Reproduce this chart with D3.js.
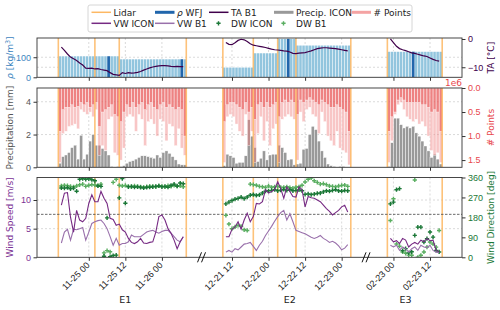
<!DOCTYPE html>
<html>
<head>
<meta charset="utf-8">
<script src="https://cdn.jsdelivr.net/npm/d3@7"></script>
<style>
  body { margin: 0; background: #fff; }
  svg { font-family: "DejaVu Sans", sans-serif; }
</style>
</head>
<body>
<svg id="chart" width="500" height="310"></svg>
<script>
// ---- data -----------------------------------------------------------------
const events = ['E1', 'E2', 'E3'];
// visible time window of every piece of the broken x axis
const axisWindows = [
  ['2023-11-24T07:00Z', '2023-11-26T13:00Z'],
  ['2023-12-21T02:00Z', '2023-12-23T08:00Z'],
  ['2024-02-22T15:00Z', '2024-02-23T22:30Z']
];
const eventStarts = ['2023-11-24T14:00Z', '2023-12-21T09:00Z', '2024-02-22T22:00Z'];
const eventLabelTimes = ['2023-11-25T12:00Z', '2023-12-22T07:00Z', '2024-02-23T04:00Z'];
const tickTimes = [
  '2023-11-25T00:00Z', '2023-11-25T12:00Z', '2023-11-26T00:00Z',
  '2023-12-21T12:00Z', '2023-12-22T00:00Z', '2023-12-22T12:00Z', '2023-12-23T00:00Z',
  '2024-02-23T00:00Z', '2024-02-23T12:00Z'
];
const lidarTimes = [
  '2023-11-24T14:00Z', '2023-11-25T02:00Z', '2023-11-25T10:00Z', '2023-11-26T08:00Z',
  '2023-12-21T09:00Z', '2023-12-21T19:00Z', '2023-12-22T03:00Z', '2023-12-22T09:00Z', '2023-12-23T03:00Z',
  '2024-02-22T22:00Z', '2024-02-23T16:00Z'
];
// snow density WFJ: [from, to, kg/m3]
const rhoSteps = [
  ['2023-11-24T14:00Z', '2023-11-25T10:00Z', 106],
  ['2023-11-25T10:00Z', '2023-11-26T08:00Z', 91],
  ['2023-12-21T09:00Z', '2023-12-21T19:00Z', 50],
  ['2023-12-21T19:00Z', '2023-12-22T03:00Z', 121],
  ['2023-12-22T03:00Z', '2023-12-22T09:00Z', 192],
  ['2023-12-22T09:00Z', '2023-12-23T03:00Z', 160],
  ['2024-02-22T22:00Z', '2024-02-23T16:00Z', 128]
];
const rhoObs = [
  ['2023-11-25T06:00Z', 106], ['2023-11-26T06:00Z', 91],
  ['2023-12-22T06:00Z', 192], ['2024-02-23T06:00Z', 128]
];

// hourly series, one value per hour from the event start
const precipE1 = [0.25,0.65,0.75,0.9,1.2,1.35,0.5,1.95,0.5,0.8,1.6,2.0,1.35,1.35,1.15,1.0,0.75,0.05,0.02,0.05,0.05,0.1,0.25,0.35,0.4,0.5,0.6,0.7,0.7,0.65,0.6,0.55,0.75,0.6,0.9,1.0,0.85,0.65,0.45,0.2,0.15,0.15];
const precipE2 = [0.1,0.8,0.7,0.6,0.25,0.3,0.3,0.7,2.9,1.9,1.2,0.35,0.55,1.0,0.45,0.75,0.8,0.8,1.35,1.2,0.9,0.45,0.5,0.15,0.2,0.25,1.1,1.15,2.0,2.5,2.3,1.6,1.0,0.6,0.2,0.1,0.05,0.0,0.05,0.05,0.0,0.0];
const precipE3 = [0.05,1.5,3.0,3.0,2.6,2.4,2.5,2.4,2.5,2.1,1.9,1.6,1.3,1.0,0.6,0.8,0.5,0.2];

// number of lidar points (x 1e6): all points and the smaller subset
const ptsAllE1 = [1.55,0.95,0.9,0.8,0.78,0.75,0.85,0.45,0.5,0.55,0.5,0.6,0.45,1.4,1.2,1.3,0.65,0.6,1.35,1.4,1.5,1.25,0.6,0.55,0.6,0.9,0.55,0.65,1.2,0.7,0.65,0.75,1.0,0.65,0.7,1.1,0.75,0.8,1.2,0.85,1.25,1.4];
const ptsSubE1 = [0.9,0.45,0.4,0.4,0.35,0.4,0.38,0.3,0.35,0.3,0.4,0.35,0.3,0.8,0.5,0.45,0.4,0.35,0.55,0.6,0.7,0.5,0.35,0.4,0.3,0.4,0.35,0.3,0.45,0.35,0.3,0.4,0.45,0.35,0.3,0.4,0.35,0.4,0.45,0.4,0.45,1.0];
const ptsAllE2 = [1.55,0.6,0.55,0.6,0.75,0.9,1.0,0.55,1.2,0.9,1.55,0.95,0.6,1.1,0.7,1.2,0.85,0.75,1.55,0.65,0.6,0.55,0.6,0.65,1.5,0.5,0.7,0.45,0.4,0.55,0.6,0.95,0.5,0.7,1.0,1.1,1.2,0.9,1.25,1.3,1.35,1.6];
const ptsSubE2 = [0.7,0.35,0.3,0.3,0.35,0.4,0.45,0.3,0.5,0.4,0.65,0.35,0.3,0.4,0.3,0.4,0.35,0.3,0.6,0.3,0.25,0.3,0.25,0.3,0.55,0.25,0.3,0.25,0.2,0.25,0.3,0.35,0.25,0.3,0.35,0.4,0.4,0.35,0.4,0.45,0.5,0.9];
const ptsAllE3 = [1.55,1.1,0.55,0.35,0.3,0.45,0.6,0.65,0.7,0.65,0.75,0.7,0.8,1.0,1.3,1.4,1.35,1.55];
const ptsSubE3 = [0.9,0.6,0.5,0.25,0.2,0.25,0.3,0.3,0.3,0.3,0.3,0.35,0.35,0.4,0.5,0.45,0.5,0.9];

// air temperature B1 (degC)
const taE1 = [null,-2.9,-4.0,-5.3,-6.4,-7.0,-7.6,-8.5,-9.2,-10.3,-10.4,-10.3,-10.6,-10.5,-10.8,-11.0,-11.2,-11.9,-12.5,-12.7,-12.9,-11.9,-12.2,-11.9,-12.1,-12.0,-11.8,-11.5,-11.0,-10.6,-10.2,-9.9,-9.7,-9.5,-9.4,-9.4,-9.5,-9.7,-9.8,-9.7,-9.8,-9.8];
const taE2 = [null,-1.2,-1.9,-2.0,-1.3,-0.5,-0.1,-0.3,-0.9,-1.7,-2.2,-2.4,-2.6,-2.8,-3.0,-3.3,-3.6,-3.8,-3.9,-4.0,-4.2,-4.3,-4.6,-5.1,-5.2,-5.0,-4.9,-4.8,-4.5,-4.2,-3.8,-3.4,-3.2,-3.1,-3.1,-3.2,-3.3,-3.4,-3.6,-3.8,-4.0,-4.2];
const taE3 = [null,0.0,-1.3,-2.6,-3.4,-3.8,-4.1,-4.5,-4.9,-5.1,-5.4,-5.7,-6.0,-6.2,-6.7,-7.2,-7.6,-7.8];

// wind speed (m/s)
const vwIconE1 = [null,9.1,11.2,11.3,7.0,4.4,8.2,6.5,6.2,6.8,9.4,10.9,9.7,9.7,11.5,10.3,9.4,6.8,6.6,5.6,5.8,4.8,4.4,3.3,2.6,2.4,2.7,3.3,2.5,2.4,2.6,2.7,4.4,7.1,7.4,6.5,5.0,4.2,3.0,1.5,2.7,3.6];
const vwB1E1 = [null,2.5,4.4,4.9,3.0,4.9,4.8,5.0,5.2,3.0,4.4,5.9,6.2,6.4,6.5,5.9,5.0,3.6,2.1,3.3,2.1,2.4,2.4,2.7,3.9,3.6,3.6,3.6,4.0,4.4,4.6,4.7,4.4,4.2,4.5,4.7,4.7,4.2,3.6,3.0,2.7,3.6];
const vwIconE2 = [null,3.6,3.6,4.9,5.3,6.2,4.9,6.5,7.7,6.2,7.1,9.4,9.3,9.7,11.8,11.2,11.5,11.8,13.2,12.0,10.3,12.3,11.5,10.6,10.5,12.3,11.8,8.8,10.6,10.4,10.3,10.0,9.7,9.1,8.5,8.0,7.4,7.8,8.2,8.8,9.1,7.9];
const vwB1E2 = [null,0.9,1.2,0.9,1.5,1.3,1.8,2.3,2.4,2.6,1.9,1.2,2.1,2.8,3.8,4.6,5.4,6.3,7.1,7.8,8.2,6.5,7.6,6.2,4.7,4.5,4.3,4.1,3.8,3.5,3.3,3.5,3.8,3.3,3.0,2.6,2.8,2.5,2.0,1.3,1.6,2.2];
const vwIconE3 = [null,3.3,2.7,2.9,2.4,3.3,3.0,1.8,2.3,2.6,2.3,3.0,2.7,3.3,2.9,3.0,1.2,1.0];
const vwB1E3 = [null,2.1,1.8,2.1,1.2,1.8,1.5,0.9,1.5,1.8,1.2,2.1,1.8,1.7,2.1,1.2,0.9,0.8];

// wind direction (deg)
const dwIconE1 = [null,313,312,314,309,312,298,352,355,352,354,350,345,322,320,5,178,3,8,10,268,355,244,318,320,316,318,315,313,315,316,318,320,322,318,320,316,325,330,322,335,332];
const dwB1E1 = [null,322,325,323,320,318,322,327,330,320,325,328,326,323,330,20,30,25,338,352,325,322,324,320,318,322,320,318,316,319,321,320,318,322,320,318,323,320,325,320,322,318];
const dwIconE2 = [null,241,249,256,262,266,271,265,272,280,283,279,282,290,298,300,302,305,300,303,306,302,305,300,302,304,300,284,286,283,285,288,290,295,300,298,302,305,300,298,302,300];
const dwB1E2 = [null,189,150,129,137,144,140,124,121,330,328,325,320,318,315,322,316,318,320,316,315,318,314,312,316,318,325,340,352,358,345,338,330,332,328,322,320,318,322,324,326,320];
const dwIconE3 = [null,241,249,305,310,30,39,20,25,99,136,136,69,84,114,91,31,24];
const dwB1E3 = [null,166,264,60,50,24,18,10,9,349,0,9,24,46,69,60,46,121];

// ---- layout ---------------------------------------------------------------
const L = 37, R = 462;
const P1 = [38, 77.3], P2 = [88, 167.3], P3 = [177.5, 257.3];
const C = {
  lidar: '#fdb863', rhoLight: '#92c5de', rhoDark: '#2166ac', ta: '#40004b',
  precip: '#999999', pts: '#e8474c', vwIcon: '#762a83', vwB1: '#9970ab',
  dwIcon: '#1b7837', dwB1: '#5aae61', grid: '#d0d0d0', axis: '#333'
};

const parse = d3.isoParse;
const hour = 36e5;

// broken time axis: one piecewise scale over the three windows
const win = axisWindows.map(w => w.map(parse));
const winHours = win.map(w => (w[1] - w[0]) / hour);
const pxh = (R - L) / d3.sum(winHours);
const xRange = [];
let acc = L;
win.forEach((w, k) => { xRange.push(acc); acc += winHours[k] * pxh; xRange.push(acc); });
const x = d3.scaleUtc().domain(win.flat()).range(xRange);

const yRho = d3.scaleLinear().domain([0, 196]).range([P1[1], P1[0]]);
const yTA = d3.scaleLinear().domain([-13.55, 0.35]).range([P1[1], P1[0]]);
const yPr = d3.scaleLinear().domain([0, 4.84]).range([P2[1], P2[0]]);
const yPts = d3.scaleLinear().domain([0, 1.65]).range([P2[0], P2[1]]);
const yVW = d3.scaleLinear().domain([0, 13.93]).range([P3[1], P3[0]]);
const yDW = d3.scaleLinear().domain([0, 360]).range([P3[1], P3[0]]);

const precip = [precipE1, precipE2, precipE3];
const ptsAll = [ptsAllE1, ptsAllE2, ptsAllE3];
const ptsSub = [ptsSubE1, ptsSubE2, ptsSubE3];
const ta = [taE1, taE2, taE3];
const vwIcon = [vwIconE1, vwIconE2, vwIconE3];
const vwB1 = [vwB1E1, vwB1E2, vwB1E3];
const dwIcon = [dwIconE1, dwIconE2, dwIconE3];
const dwB1 = [dwB1E1, dwB1E2, dwB1E3];

const rows = events.map((name, k) => {
  const t0 = parse(eventStarts[k]);
  return precip[k].map((p, i) => ({
    t: d3.utcHour.offset(t0, i),
    precip: p, ptsAll: ptsAll[k][i], ptsSub: ptsSub[k][i],
    ta: ta[k][i], vwIcon: vwIcon[k][i], vwB1: vwB1[k][i],
    dwIcon: dwIcon[k][i], dwB1: dwB1[k][i]
  }));
});
const allRows = rows.flat();
const ticks = tickTimes.map(parse);
const barX = t => x(t);
const barW = t => x(d3.utcHour.offset(t, 1)) - x(t);

const svg = d3.select('#chart');
const defs = svg.append('defs');
[P1, P2, P3].forEach((p, i) => {
  defs.append('clipPath').attr('id', 'clip' + i)
    .append('rect').attr('x', L).attr('y', p[0]).attr('width', R - L).attr('height', p[1] - p[0]);
});

function panel(p, i) {
  const g = svg.append('g');
  const plot = g.append('g').attr('clip-path', `url(#clip${i})`);
  return { g, plot };
}
function vgrid(g, p) {
  g.append('g').selectAll('line').data(ticks).join('line')
    .attr('x1', d => x(d)).attr('x2', d => x(d)).attr('y1', p[0]).attr('y2', p[1])
    .attr('stroke', C.grid).attr('stroke-width', 0.8).attr('stroke-dasharray', '2,2');
}
function hgrid(g, scale, vals) {
  g.append('g').selectAll('line').data(vals).join('line')
    .attr('x1', L).attr('x2', R).attr('y1', d => scale(d)).attr('y2', d => scale(d))
    .attr('stroke', C.grid).attr('stroke-width', 0.8).attr('stroke-dasharray', '2,2');
}
function lidar(g, p) {
  g.append('g').selectAll('line').data(lidarTimes.map(parse)).join('line')
    .attr('x1', d => x(d)).attr('x2', d => x(d)).attr('y1', p[0]).attr('y2', p[1])
    .attr('stroke', C.lidar).attr('stroke-width', 1.6).attr('opacity', 0.85);
}
function frame(g, p, labels) {
  g.append('rect').attr('x', L).attr('y', p[0]).attr('width', R - L).attr('height', p[1] - p[0])
    .attr('fill', 'none').attr('stroke', C.axis).attr('stroke-width', 0.9);
  const ax = g.append('g').attr('transform', `translate(0,${p[1]})`)
    .call(d3.axisBottom(x).tickValues(ticks).tickSize(3.5).tickFormat(labels ? d3.utcFormat('%m-%d %H') : ''));
  ax.select('.domain').remove();
  ax.selectAll('.tick line').attr('stroke', C.axis);
  if (labels) {
    ax.attr('text-anchor', 'end');
    ax.selectAll('.tick text')
      .attr('x', 0).attr('y', 0).attr('dy', 0)
      .attr('transform', 'translate(1,8.5) rotate(-45)')
      .attr('text-anchor', 'end').attr('fill', '#222').attr('font-size', 9);
  }
}
function yAxis(g, side, scale, vals, color, fmt) {
  const gen = side === 'left' ? d3.axisLeft(scale) : d3.axisRight(scale);
  const ax = g.append('g').attr('transform', `translate(${side === 'left' ? L : R},0)`)
    .call(gen.tickValues(vals).tickSize(3.5).tickPadding(2.5).tickFormat(fmt));
  ax.select('.domain').remove();
  ax.selectAll('.tick line').attr('stroke', C.axis);
  ax.selectAll('.tick text').attr('fill', color).attr('font-size', 9);
}
function yLabel(xPos, yMid, color, build) {
  const t = svg.append('text')
    .attr('transform', `translate(${xPos},${yMid}) rotate(-90)`)
    .attr('text-anchor', 'middle').attr('fill', color).attr('font-size', 9);
  build(t);
}
const fmtSigned = d => (d < 0 ? '\u2212' + Math.abs(d) : String(d));

// ---- panel 1: density + temperature ---------------------------------------
{
  const { g, plot } = panel(P1, 0);
  vgrid(plot, P1);
  hgrid(plot, yRho, [100]);
  hgrid(plot, yTA, [-10]);
  const rhoBars = rhoSteps.flatMap(([s, e, v]) =>
    d3.utcHour.range(parse(s), parse(e)).map(t => ({ t, v })));
  plot.append('g').selectAll('rect').data(rhoBars).join('rect')
    .attr('x', d => barX(d.t)).attr('width', d => barW(d.t))
    .attr('y', d => yRho(d.v)).attr('height', d => yRho(0) - yRho(d.v))
    .attr('fill', C.rhoLight).attr('stroke', '#fff').attr('stroke-width', 0.4);
  plot.append('g').selectAll('rect').data(rhoObs.map(([t, v]) => ({ t: parse(t), v }))).join('rect')
    .attr('x', d => barX(d.t)).attr('width', d => barW(d.t))
    .attr('y', d => yRho(d.v)).attr('height', d => yRho(0) - yRho(d.v))
    .attr('fill', C.rhoDark).attr('stroke', '#fff').attr('stroke-width', 0.3);
  lidar(plot, P1);
  const taLine = d3.line().defined(d => d.ta != null).x(d => x(d.t)).y(d => yTA(d.ta));
  rows.forEach(r => plot.append('path').datum(r).attr('d', taLine)
    .attr('fill', 'none').attr('stroke', C.ta).attr('stroke-width', 1.2));
  frame(g, P1, false);
  yAxis(g, 'left', yRho, [0, 100], '#3d85c0', d3.format('d'));
  yAxis(g, 'right', yTA, [0, -10], C.ta, fmtSigned);
}

// ---- panel 2: precipitation + number of points ----------------------------
{
  const { g, plot } = panel(P2, 1);
  vgrid(plot, P2);
  hgrid(plot, yPr, [2, 4]);
  plot.append('g').selectAll('rect').data(allRows).join('rect')
    .attr('x', d => barX(d.t)).attr('width', d => barW(d.t))
    .attr('y', d => yPr(d.precip)).attr('height', d => yPr(0) - yPr(d.precip))
    .attr('fill', C.precip).attr('stroke', '#fff').attr('stroke-width', 0.4);
  plot.append('g').selectAll('rect').data(allRows).join('rect')
    .attr('x', d => barX(d.t)).attr('width', d => barW(d.t))
    .attr('y', yPts(0)).attr('height', d => yPts(d.ptsAll) - yPts(0))
    .attr('fill', 'rgb(240,128,128)').attr('fill-opacity', 0.45)
    .attr('stroke', '#fff').attr('stroke-width', 0.4);
  plot.append('g').selectAll('rect').data(allRows).join('rect')
    .attr('x', d => barX(d.t)).attr('width', d => barW(d.t))
    .attr('y', yPts(0)).attr('height', d => yPts(d.ptsSub) - yPts(0))
    .attr('fill', 'rgb(230,75,75)').attr('fill-opacity', 0.55)
    .attr('stroke', '#fff').attr('stroke-width', 0.4);
  lidar(plot, P2);
  frame(g, P2, false);
  yAxis(g, 'left', yPr, [0, 2, 4], '#555', d3.format('d'));
  yAxis(g, 'right', yPts, [0, 0.5, 1.0, 1.5], C.pts, d3.format('.1f'));
  svg.append('text').attr('x', R).attr('y', P2[0] - 2.5).attr('text-anchor', 'end')
    .attr('fill', C.pts).attr('font-size', 9).text('1e6');
}

// ---- panel 3: wind speed + direction --------------------------------------
{
  const { g, plot } = panel(P3, 2);
  vgrid(plot, P3);
  hgrid(plot, yVW, [5, 10]);
  lidar(plot, P3);
  plot.append('line').attr('x1', L).attr('x2', R).attr('y1', yVW(7.5)).attr('y2', yVW(7.5))
    .attr('stroke', '#444').attr('stroke-width', 0.8).attr('stroke-dasharray', '2.5,1.5');
  const sym = d3.symbol(d3.symbolCross, 10);
  [['dwB1', C.dwB1], ['dwIcon', C.dwIcon]].forEach(([k, col]) => {
    plot.append('g').selectAll('path').data(allRows.filter(d => d[k] != null)).join('path')
      .attr('d', sym).attr('transform', d => `translate(${x(d.t)},${yDW(d[k])})`)
      .attr('fill', col);
  });
  [['vwB1', C.vwB1], ['vwIcon', C.vwIcon]].forEach(([k, col]) => {
    const line = d3.line().defined(d => d[k] != null).x(d => x(d.t)).y(d => yVW(d[k]));
    rows.forEach(r => plot.append('path').datum(r).attr('d', line)
      .attr('fill', 'none').attr('stroke', col).attr('stroke-width', 1.1));
  });
  frame(g, P3, true);
  yAxis(g, 'left', yVW, [0, 5, 10], '#7b3294', d3.format('d'));
  yAxis(g, 'right', yDW, [0, 90, 180, 270, 360], C.dwIcon, d3.format('d'));
  // break marks on the time axis
  const breaks = [xRange[1], xRange[3]];
  breaks.forEach(bx => {
    [-2, 2].forEach(off => {
      svg.append('line').attr('x1', bx + off - 2).attr('y1', P3[1] + 5)
        .attr('x2', bx + off + 2).attr('y2', P3[1] - 5)
        .attr('stroke', '#111').attr('stroke-width', 1);
    });
  });
  svg.append('g').selectAll('text').data(events).join('text')
    .attr('x', (d, k) => x(parse(eventLabelTimes[k]))).attr('y', 303)
    .attr('text-anchor', 'middle').attr('font-size', 9.5).attr('fill', '#222').text(d => d);
}

// ---- axis titles ----------------------------------------------------------
yLabel(13, (P1[0] + P1[1]) / 2, '#3d85c0', t => {
  t.append('tspan').attr('font-style', 'italic').text('ρ');
  t.append('tspan').text(' [kg/m');
  t.append('tspan').attr('font-size', 6.5).attr('dy', -3.5).text('3');
  t.append('tspan').attr('dy', 3.5).text(']');
});
yLabel(13, (P2[0] + P2[1]) / 2, '#555', t => t.text('Precipitation [mm]'));
yLabel(13, (P3[0] + P3[1]) / 2, '#7b3294', t => t.text('Wind Speed [m/s]'));
yLabel(494, (P1[0] + P1[1]) / 2, C.ta, t => t.text('TA [°C]'));
yLabel(494, (P2[0] + P2[1]) / 2, C.pts, t => t.text('# Points'));
yLabel(494, (P3[0] + P3[1]) / 2, C.dwIcon, t => t.text('Wind Direction [deg]'));

// ---- legend ---------------------------------------------------------------
const legendItems = [
  { label: 'Lidar', kind: 'line', color: C.lidar, w: 1.5 },
  { label: 'ρ WFJ', kind: 'line', color: C.rhoDark, w: 3 },
  { label: 'TA B1', kind: 'line', color: C.ta, w: 1.5 },
  { label: 'Precip. ICON', kind: 'line', color: C.precip, w: 3 },
  { label: '# Points', kind: 'line', color: '#f4a3a3', w: 3 },
  { label: 'VW ICON', kind: 'line', color: C.vwIcon, w: 1.5 },
  { label: 'VW B1', kind: 'line', color: C.vwB1, w: 1.5 },
  { label: 'DW ICON', kind: 'marker', color: C.dwIcon },
  { label: 'DW B1', kind: 'marker', color: C.dwB1 }
];
const legCols = [91.5, 155, 209, 274, 351.5];
const legRows = [12.3, 23.3];
const leg = svg.append('g');
leg.append('rect').attr('x', 88).attr('y', 5).attr('width', 324).attr('height', 27).attr('rx', 2)
  .attr('fill', '#fff').attr('stroke', '#ccc').attr('stroke-width', 0.8);
legendItems.forEach((it, i) => {
  const cx = legCols[i % 5], cy = legRows[Math.floor(i / 5)];
  if (it.kind === 'line') {
    leg.append('line').attr('x1', cx).attr('x2', cx + 19.5).attr('y1', cy).attr('y2', cy)
      .attr('stroke', it.color).attr('stroke-width', it.w);
  } else {
    leg.append('path').attr('d', d3.symbol(d3.symbolCross, 10)())
      .attr('transform', `translate(${cx + 9.5},${cy})`).attr('fill', it.color);
  }
  const t = leg.append('text').attr('x', cx + 22).attr('y', cy + 3.2).attr('font-size', 9).attr('fill', '#222');
  if (it.label.startsWith('ρ')) {
    t.append('tspan').attr('font-style', 'italic').text('ρ');
    t.append('tspan').text(it.label.slice(1));
  } else {
    t.text(it.label);
  }
});
</script>
</body>
</html>
